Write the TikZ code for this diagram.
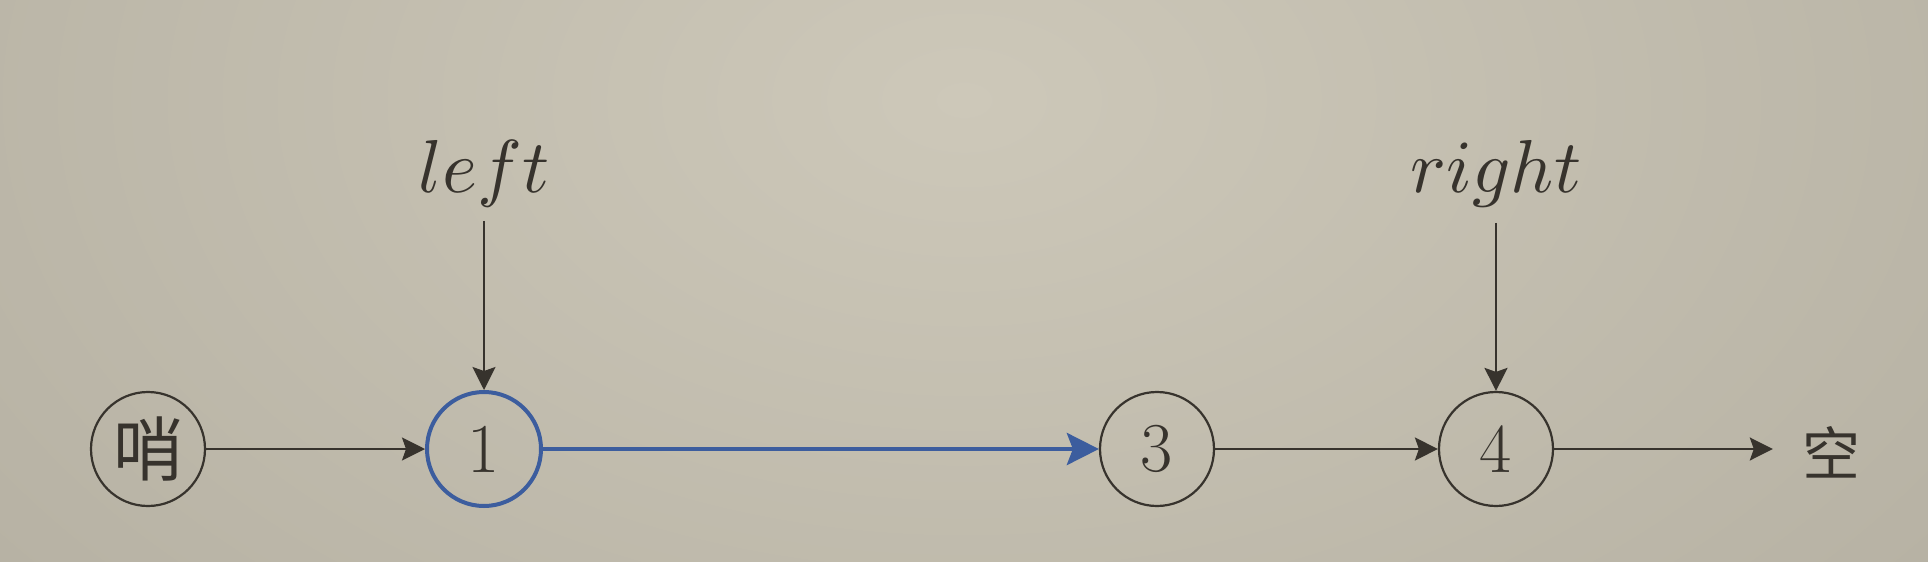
\documentclass[tikz,border=0pt]{standalone}
\usepackage{graphicx}
\usepackage{fontspec}
\newfontfamily\cjk{Noto Sans CJK SC}
\usetikzlibrary{arrows.meta}
\definecolor{ink}{HTML}{37332D}
\definecolor{blueline}{HTML}{3C5D9E}
\definecolor{bgin}{HTML}{CDC8B9}
\definecolor{bgout}{HTML}{B6B1A3}
\tikzset{
  listnode/.style={circle, draw=ink, line width=2.2pt, minimum size=114pt, inner sep=0pt, text=ink, font=\fontsize{70}{72}\selectfont},
  curnode/.style={listnode, draw=blueline, line width=4pt},
  ptrlabel/.style={anchor=base, inner sep=0pt, text=ink},
  link/.style={draw=ink, line width=2.2pt, -{Stealth[length=23pt, width=23pt, inset=4pt]}},
  bluelink/.style={draw=blueline, line width=4.5pt, -{Stealth[length=32pt, width=32pt, inset=6pt]}},
  cjktext/.style={inner sep=0pt, text=ink, font=\cjk\fontsize{58}{60}\selectfont}
}
\begin{document}
\begin{tikzpicture}[x=1pt,y=-1pt]
\useasboundingbox (0,0) rectangle (1928,562);
\fill[bgout] (0,0) rectangle (1928,562);
\shade[inner color=bgin, outer color=bgout] (-300,-700) rectangle (2228,900);

\node[listnode] (s) at (148,449) {\cjk 哨};
\node[curnode] (n1) at (484,449) {1};
\node[listnode] (n3) at (1157,449) {3};
\node[listnode] (n4) at (1496,449) {4};
\node[cjktext] (null) at (1831,452) {空};

\node[ptrlabel] (left) at (484,192) {\scalebox{7.5}{$left$}};
\node[ptrlabel] (right) at (1496,192) {\scalebox{7.5}{$right$}};

\draw[link] (s) -- (n1);
\draw[bluelink] (n1) -- (n3);
\draw[link] (n3) -- (n4);
\draw[link, shorten >=29pt] (n4) -- (n4 -| null.west);
\draw[link, shorten <=14pt] (left) -- (n1);
\draw[link, shorten <=16pt] (right) -- (n4);
\end{tikzpicture}
\end{document}
